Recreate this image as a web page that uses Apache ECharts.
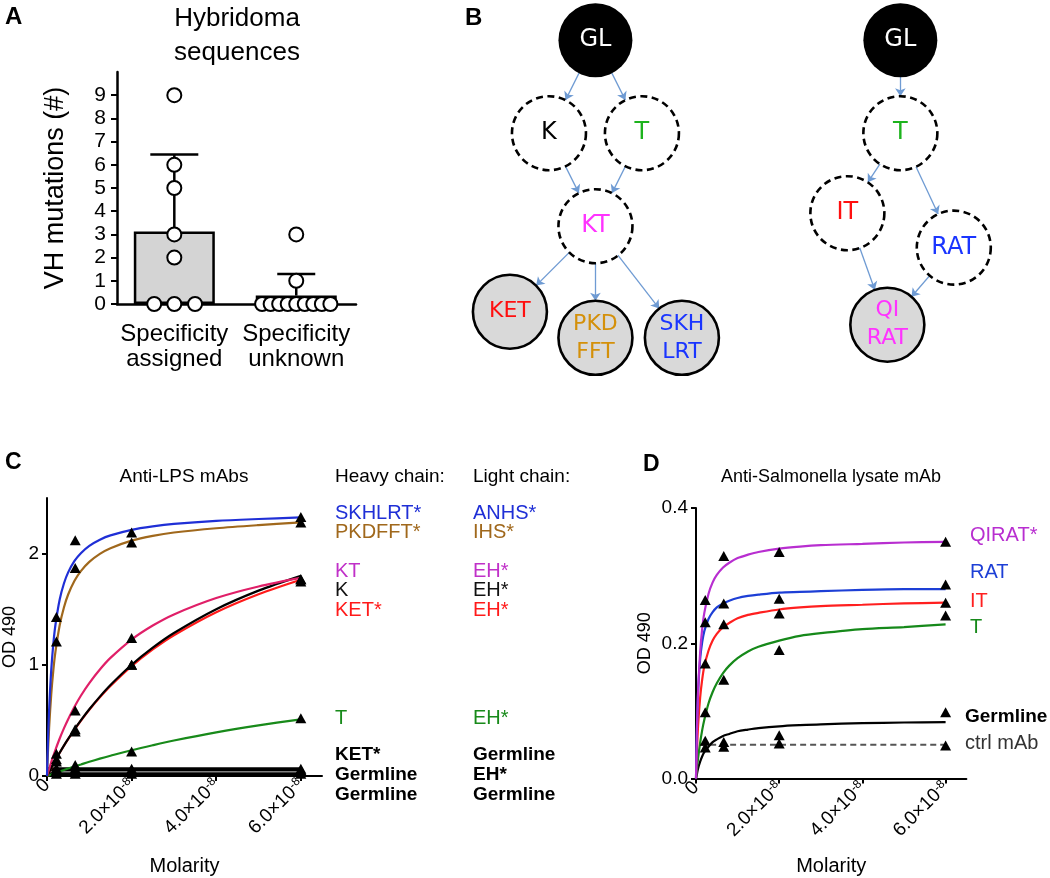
<!DOCTYPE html>
<html><head><meta charset="utf-8">
<script src="https://cdn.jsdelivr.net/npm/echarts@6/dist/echarts.min.js"></script>
<style>html,body{margin:0;padding:0;background:#fff}#c{width:1050px;height:878px}</style>
</head><body><div id="c"></div>
<script>
// ================= DATA =================
// Panel A
const categoriesA = ['Specificity\nassigned', 'Specificity\nunknown'];
const yTicksA = [0, 1, 2, 3, 4, 5, 6, 7, 8, 9];
const assignedValues = [9, 6, 5, 3, 2, 0, 0, 0];
const assignedOffsets = [0, 0, 0, 0, 0, -0.165, 0, 0.17];
const unknownValues = [3, 1, 0, 0, 0, 0, 0, 0, 0, 0, 0];
const unknownOffsets = [0, 0, -0.28, -0.21, -0.14, -0.07, 0, 0.07, 0.14, 0.21, 0.28];

// Panel B (col = horizontal step, level = vertical step)
const treeLeftNodes = [
  {id: 'GL', text: 'GL', kind: 'root', color: '#ffffff', col: 0, level: 0},
  {id: 'K', text: 'K', kind: 'inter', color: '#000000', col: -1, level: 1},
  {id: 'T', text: 'T', kind: 'inter', color: '#1db31d', col: 1, level: 1},
  {id: 'KT', text: 'KT', kind: 'inter', color: '#ff33ff', col: 0, level: 2},
  {id: 'KET', text: 'KET', kind: 'leaf', color: '#ff1010', col: -1.84, level: 2.92},
  {id: 'PKDFFT', text: 'PKD\nFFT', kind: 'leaf', color: '#d4900a', col: 0, level: 3.2},
  {id: 'SKHLRT', text: 'SKH\nLRT', kind: 'leaf', color: '#1a35ff', col: 1.86, level: 3.2}
];
const treeLeftLinks = [['GL', 'K'], ['GL', 'T'], ['K', 'KT'], ['T', 'KT'], ['KT', 'KET'], ['KT', 'PKDFFT'], ['KT', 'SKHLRT']];
const treeRightNodes = [
  {id: 'GL', text: 'GL', kind: 'root', color: '#ffffff', col: 0, level: 0},
  {id: 'T', text: 'T', kind: 'inter', color: '#1db31d', col: 0, level: 1},
  {id: 'IT', text: 'IT', kind: 'inter', color: '#ff1010', col: -1.14, level: 1.86},
  {id: 'RAT', text: 'RAT', kind: 'inter', color: '#1a35ff', col: 1.15, level: 2.23},
  {id: 'QIRAT', text: 'QI\nRAT', kind: 'leaf', color: '#ff33ff', col: -0.28, level: 3.06}
];
const treeRightLinks = [['GL', 'T'], ['T', 'IT'], ['T', 'RAT'], ['IT', 'QIRAT'], ['RAT', 'QIRAT']];
const treeRightColOffset = 6.56;

// Panels C and D (molarity in units of 1e-8 M)
const xTicksCD = [0, 2, 4, 6];
const curveX = [0, 0.02, 0.05, 0.1, 0.15, 0.2, 0.3, 0.4, 0.5, 0.65, 0.8, 1, 1.25, 1.5, 2, 2.5, 3, 4, 5, 6];
const pointX = [0.222, 0.667, 2, 6];

const yTicksC = [0, 1, 2];
const curveC_SKHLRT = [0, 0.28, 0.595, 0.952, 1.19, 1.36, 1.587, 1.731, 1.831, 1.934, 2.004, 2.07, 2.125, 2.164, 2.214, 2.245, 2.267, 2.294, 2.311, 2.325];
const curveC_PKDFFT = [0, 0.196, 0.435, 0.734, 0.953, 1.119, 1.356, 1.516, 1.632, 1.756, 1.843, 1.926, 1.998, 2.049, 2.117, 2.16, 2.19, 2.228, 2.256, 2.28];
const curveC_KT = [0, 0.026, 0.064, 0.124, 0.182, 0.236, 0.337, 0.428, 0.511, 0.623, 0.722, 0.836, 0.958, 1.062, 1.227, 1.353, 1.453, 1.6, 1.704, 1.781];
const curveC_K = [0, 0.015, 0.037, 0.073, 0.108, 0.143, 0.209, 0.273, 0.333, 0.419, 0.5, 0.6, 0.714, 0.818, 1.0, 1.154, 1.286, 1.5, 1.667, 1.8];
const curveC_KET = [0, 0.015, 0.037, 0.073, 0.108, 0.143, 0.209, 0.272, 0.332, 0.417, 0.497, 0.596, 0.708, 0.81, 0.988, 1.138, 1.266, 1.473, 1.635, 1.765];
const curveC_T = [0, 0.003, 0.007, 0.014, 0.021, 0.028, 0.041, 0.054, 0.067, 0.086, 0.104, 0.128, 0.156, 0.182, 0.232, 0.277, 0.319, 0.392, 0.455, 0.51];
const flatX = [0, 6];
const lineC_flat1 = [0.065, 0.065];
const lineC_flat2 = [0.055, 0.055];
const lineC_flat3 = [0.02, 0.02];
const pointsC_SKHLRT = [1.43, 2.12, 2.19, 2.33];
const pointsC_PKDFFT = [1.21, 1.87, 2.10, 2.28];
const pointsC_KT = [0.20, 0.59, 1.24, 1.77];
const pointsC_K = [0.13, 0.40, 1.0, 1.77];
const pointsC_KET = [0.15, 0.42, 1.0, 1.75];
const pointsC_T = [0.05, 0.10, 0.22, 0.52];
const pointsC_flat1 = [0.07, 0.07, 0.065, 0.065];
const pointsC_flat2 = [0.05, 0.05, 0.05, 0.055];
const pointsC_flat3 = [0.02, 0.02, 0.02, 0.02];
const heavyChainC = ['SKHLRT*', 'PKDFFT*', 'KT', 'K', 'KET*', 'T', 'KET*', 'Germline', 'Germline'];
const lightChainC = ['ANHS*', 'IHS*', 'EH*', 'EH*', 'EH*', 'EH*', 'Germline', 'EH*', 'Germline'];

const yTicksD = [0, 0.2, 0.4];
const curveD_QIRAT = [0, 0.065, 0.127, 0.187, 0.222, 0.245, 0.273, 0.29, 0.301, 0.312, 0.319, 0.326, 0.331, 0.335, 0.34, 0.343, 0.345, 0.347, 0.349, 0.35];
const curveD_RAT = [0, 0.071, 0.129, 0.177, 0.202, 0.218, 0.236, 0.246, 0.253, 0.259, 0.263, 0.267, 0.27, 0.272, 0.275, 0.276, 0.277, 0.279, 0.28, 0.28];
const curveD_IT = [0, 0.038, 0.078, 0.12, 0.147, 0.166, 0.189, 0.204, 0.214, 0.224, 0.23, 0.237, 0.242, 0.245, 0.25, 0.253, 0.255, 0.257, 0.259, 0.26];
const curveD_T = [0, 0.013, 0.03, 0.053, 0.072, 0.087, 0.111, 0.128, 0.141, 0.156, 0.167, 0.178, 0.188, 0.195, 0.204, 0.211, 0.215, 0.221, 0.224, 0.228];
const curveD_GL = [0, 0.006, 0.015, 0.025, 0.033, 0.039, 0.047, 0.054, 0.058, 0.063, 0.066, 0.07, 0.0725, 0.0746, 0.0773, 0.079, 0.0803, 0.0819, 0.0829, 0.0835];
const ctrlX = [0.1, 6];
const lineD_ctrl = [0.05, 0.05];
const pointsD_QIRAT = [0.264, 0.329, 0.335, 0.35];
const pointsD_RAT = [0.231, 0.259, 0.266, 0.287];
const pointsD_IT = [0.17, 0.228, 0.244, 0.26];
const pointsD_T = [0.098, 0.146, 0.19, 0.241];
const pointsD_GL = [0.056, 0.054, 0.064, 0.098];
const pointsD_ctrl = [0.046, 0.047, 0.052, 0.049];
const labelsD = ['QIRAT*', 'RAT', 'IT', 'T', 'Germline', 'ctrl mAb'];

// ================= STYLE =================
const SANS = '"Liberation Sans", Arial, sans-serif';
const VERD = '"DejaVu Sans", Verdana, sans-serif';
const colC = {blue: '#1f2fd6', brown: '#a0681c', pink: '#e01f68', black: '#000000', red: '#ff1a1a', green: '#188a1a'};
const colD = {mag: '#b82ed0', blue: '#1d3fd6', red: '#ff1f1f', green: '#16891a', black: '#000000', ctrl: '#555555'};
const capWidthA = [48, 38];

function mean(a) { return a.reduce((s, v) => s + v, 0) / a.length; }
function sd(a) { const m = mean(a); return Math.sqrt(a.reduce((s, v) => s + (v - m) * (v - m), 0) / (a.length - 1)); }
const statsA = [assignedValues, unknownValues].map(a => ({mean: mean(a), sd: sd(a)}));

const nodeStyle = {
  root: {color: '#000000', borderColor: '#000000', borderWidth: 0, opacity: 1},
  inter: {color: '#ffffff', borderColor: '#000000', borderWidth: 2.6, borderType: [7, 4.5], opacity: 1},
  leaf: {color: '#d9d9d9', borderColor: '#000000', borderWidth: 2.6, opacity: 1}
};
function treeSeries(nodes, links, off) {
  return {
    type: 'graph', coordinateSystem: 'cartesian2d', xAxisIndex: 1, yAxisIndex: 1,
    symbol: 'circle', symbolSize: 74, silent: true, z: 5,
    edgeSymbol: ['none', 'arrow'], edgeSymbolSize: [0, 8],
    lineStyle: {color: '#6f9bd3', width: 1.3, opacity: 1, curveness: 0},
    emphasis: {disabled: true},
    data: nodes.map(n => ({
      name: n.id, value: [n.col + off, n.level], itemStyle: nodeStyle[n.kind],
      label: {show: true, position: 'inside', formatter: n.text, color: n.color,
        fontSize: n.kind === 'leaf' ? 22 : 24, lineHeight: 28, fontFamily: VERD}
    })),
    links: links.map(([s, t]) => ({source: s, target: t}))
  };
}
function pairs(xs, ys) { return xs.map((x, i) => [x, ys[i]]); }
function curve(idx, ys, color, xs, extra) {
  return Object.assign({type: 'line', xAxisIndex: idx, yAxisIndex: idx, data: pairs(xs || curveX, ys),
    smooth: 0.3, showSymbol: false, silent: true, z: 3,
    lineStyle: {color: color, width: 2.2}}, extra || {});
}
function tri(idx, ys) {
  return {type: 'scatter', xAxisIndex: idx, yAxisIndex: idx, data: pairs(pointX, ys), symbol: 'triangle',
    symbolSize: [11, 10], itemStyle: {color: '#000', opacity: 1}, silent: true, z: 6};
}
function txt(x, y, text, o) {
  o = o || {};
  return {type: 'text', x: x, y: y, silent: true, z: 100, style: {text: text, fill: o.fill || '#000',
    font: (o.weight || 'normal') + ' ' + (o.size || 20) + 'px ' + (o.family || SANS),
    align: o.align || 'left', verticalAlign: o.va || 'middle'}};
}
const xLabelCD = {
  rotate: 45, margin: 6, color: '#000', fontFamily: SANS, fontSize: 19, customValues: xTicksCD,
  showMinLabel: true, showMaxLabel: true, hideOverlap: false,
  formatter: v => v === 0 ? '{a|0}' : '{a|' + v.toFixed(1) + '×10}{s|-8}',
  rich: {a: {fontSize: 19, fontFamily: SANS, color: '#000'}, s: {fontSize: 12, fontFamily: SANS, color: '#000', verticalAlign: 'top'}}
};
const axLine = {onZero: false, lineStyle: {color: '#000', width: 2}};

// ================= GRAPHIC TEXTS =================
const rowYC = [513, 532, 571, 590, 610, 718, 755, 775, 795];
const rowColC = [colC.blue, colC.brown, '#c030c8', '#111', colC.red, colC.green, '#000', '#000', '#000'];
const rowBoldC = [false, false, false, false, false, false, true, true, true];
const graphics = [
  txt(5, 17, 'A', {size: 24, weight: 'bold'}),
  txt(237, 19, 'Hybridoma', {size: 26, align: 'center'}),
  txt(237, 53, 'sequences', {size: 26, align: 'center'}),
  txt(465, 18, 'B', {size: 24, weight: 'bold'}),
  txt(5, 463, 'C', {size: 23, weight: 'bold'}),
  txt(184, 477, 'Anti-LPS mAbs', {size: 19, align: 'center'}),
  txt(335, 477, 'Heavy chain:', {size: 19}),
  txt(473, 477, 'Light chain:', {size: 19}),
  txt(643, 465, 'D', {size: 23, weight: 'bold'}),
  txt(831, 477, 'Anti-Salmonella lysate mAb', {size: 18, align: 'center'})
];
heavyChainC.forEach((t, i) => graphics.push(txt(335, rowYC[i], t, {size: rowBoldC[i] ? 19 : 20, weight: rowBoldC[i] ? 'bold' : 'normal', fill: rowColC[i]})));
lightChainC.forEach((t, i) => graphics.push(txt(473, rowYC[i], t, {size: (rowBoldC[i] || t === 'Germline') ? 19 : 20, weight: (rowBoldC[i] || t === 'Germline') ? 'bold' : 'normal', fill: rowColC[i]})));
const rowYD = [535, 572, 601, 627, 717, 743];
const rowXD = [970, 970, 970, 970, 965, 965];
const rowColD = [colD.mag, colD.blue, colD.red, colD.green, '#000', '#333'];
labelsD.forEach((t, i) => graphics.push(txt(rowXD[i], rowYD[i], t, {size: i === 4 ? 19 : 20, weight: i === 4 ? 'bold' : 'normal', fill: rowColD[i]})));

// ================= OPTION =================
const option = {
  animation: false,
  backgroundColor: '#fff',
  grid: [
    {left: 117, top: 72, width: 239, height: 232},
    {left: 456, top: 3, width: 581, height: 390.6},
    {left: 45, top: 498, width: 277, height: 278},
    {left: 696, top: 508, width: 270.4, height: 270.6}
  ],
  xAxis: [
    {gridIndex: 0, type: 'value', min: -0.47, max: 1.49, splitLine: {show: false},
      axisLine: {onZero: false, lineStyle: {color: '#000', width: 2.5}}, axisTick: {show: false},
      axisLabel: {customValues: [0, 1], showMinLabel: true, showMaxLabel: true, hideOverlap: false,
        formatter: v => categoriesA[Math.round(v)], color: '#000',
        fontFamily: SANS, fontSize: 24, lineHeight: 25, margin: 18}},
    {gridIndex: 1, type: 'value', min: -3, max: 9.5, show: false},
    {gridIndex: 2, type: 'value', min: 0, max: 6.5, splitLine: {show: false}, axisLine: axLine,
      axisTick: {customValues: xTicksCD, length: 5, lineStyle: {color: '#000', width: 2}}, axisLabel: xLabelCD,
      name: 'Molarity', nameLocation: 'middle', nameGap: 80,
      nameTextStyle: {color: '#000', fontFamily: SANS, fontSize: 20}},
    {gridIndex: 3, type: 'value', min: 0, max: 6.5, splitLine: {show: false}, axisLine: axLine,
      axisTick: {customValues: xTicksCD, length: 5, lineStyle: {color: '#000', width: 2}}, axisLabel: xLabelCD,
      name: 'Molarity', nameLocation: 'middle', nameGap: 78,
      nameTextStyle: {color: '#000', fontFamily: SANS, fontSize: 20}}
  ],
  yAxis: [
    {gridIndex: 0, type: 'value', min: 0, max: 10, splitLine: {show: false},
      axisLine: {onZero: false, lineStyle: {color: '#000', width: 2.5}},
      axisTick: {customValues: yTicksA, length: 6, lineStyle: {color: '#000', width: 2}},
      axisLabel: {customValues: yTicksA, showMinLabel: true, showMaxLabel: true, hideOverlap: false, color: '#000',
        fontFamily: SANS, fontSize: 21, lineHeight: 20, margin: 11},
      name: 'VH mutations (#)', nameLocation: 'middle', nameGap: 48,
      nameTextStyle: {color: '#000', fontFamily: SANS, fontSize: 27}},
    {gridIndex: 1, type: 'value', min: -0.4, max: 3.8, inverse: true, show: false},
    {gridIndex: 2, type: 'value', min: 0, max: 2.5, splitLine: {show: false}, axisLine: axLine,
      axisTick: {customValues: yTicksC, length: 5, lineStyle: {color: '#000', width: 2}},
      axisLabel: {customValues: yTicksC, showMinLabel: true, showMaxLabel: true, color: '#000', fontFamily: SANS, fontSize: 19, margin: 8},
      name: 'OD 490', nameLocation: 'middle', nameGap: 28,
      nameTextStyle: {color: '#000', fontFamily: SANS, fontSize: 18}},
    {gridIndex: 3, type: 'value', min: 0, max: 0.4, splitLine: {show: false}, axisLine: axLine,
      axisTick: {customValues: yTicksD, length: 5, lineStyle: {color: '#000', width: 2}},
      axisLabel: {customValues: yTicksD, showMinLabel: true, showMaxLabel: true, color: '#000', fontFamily: SANS, fontSize: 19, margin: 8,
        formatter: v => v.toFixed(1)},
      name: 'OD 490', nameLocation: 'middle', nameGap: 42,
      nameTextStyle: {color: '#000', fontFamily: SANS, fontSize: 18}}
  ],
  graphic: graphics,
  series: [
    // Panel A
    {type: 'bar', xAxisIndex: 0, yAxisIndex: 0, data: statsA.map((s, i) => [i, s.mean]), barWidth: 81,
      silent: true, z: 2, itemStyle: {color: '#d4d4d4', borderColor: '#000', borderWidth: 2.5}},
    {type: 'custom', xAxisIndex: 0, yAxisIndex: 0, z: 3, silent: true,
      data: statsA.map((s, i) => [i, s.mean, s.mean + s.sd]),
      renderItem: function (params, api) {
        const p0 = api.coord([api.value(0), api.value(1)]);
        const p1 = api.coord([api.value(0), api.value(2)]);
        const w = capWidthA[params.dataIndex] / 2;
        return {type: 'group', children: [
          {type: 'line', shape: {x1: p0[0], y1: p0[1], x2: p1[0], y2: p1[1]}, style: {stroke: '#000', lineWidth: 2.5}},
          {type: 'line', shape: {x1: p1[0] - w, y1: p1[1], x2: p1[0] + w, y2: p1[1]}, style: {stroke: '#000', lineWidth: 2.5}}
        ]};
      }},
    {type: 'scatter', xAxisIndex: 0, yAxisIndex: 0, silent: true, z: 6, symbolSize: 14,
      data: assignedValues.map((v, i) => [0 + assignedOffsets[i], v]).concat(unknownValues.map((v, i) => [1 + unknownOffsets[i], v])),
      itemStyle: {color: '#fff', borderColor: '#000', borderWidth: 2, opacity: 1}},
    // Panel B
    treeSeries(treeLeftNodes, treeLeftLinks, 0),
    treeSeries(treeRightNodes, treeRightLinks, treeRightColOffset),
    // Panel C
    curve(2, lineC_flat3, '#000', flatX, {lineStyle: {color: '#000', width: 3}}),
    curve(2, lineC_flat2, '#000', flatX, {lineStyle: {color: '#000', width: 3}}),
    curve(2, lineC_flat1, '#000', flatX, {lineStyle: {color: '#000', width: 3}}),
    curve(2, curveC_T, colC.green),
    curve(2, curveC_KET, colC.red),
    curve(2, curveC_K, colC.black),
    curve(2, curveC_KT, colC.pink),
    curve(2, curveC_PKDFFT, colC.brown),
    curve(2, curveC_SKHLRT, colC.blue),
    tri(2, pointsC_SKHLRT), tri(2, pointsC_PKDFFT), tri(2, pointsC_KT), tri(2, pointsC_K),
    tri(2, pointsC_KET), tri(2, pointsC_T), tri(2, pointsC_flat1), tri(2, pointsC_flat2), tri(2, pointsC_flat3),
    // Panel D
    curve(3, lineD_ctrl, colD.ctrl, ctrlX, {lineStyle: {color: colD.ctrl, width: 2, type: [6, 4]}}),
    curve(3, curveD_GL, colD.black),
    curve(3, curveD_T, colD.green),
    curve(3, curveD_IT, colD.red),
    curve(3, curveD_RAT, colD.blue),
    curve(3, curveD_QIRAT, colD.mag),
    tri(3, pointsD_QIRAT), tri(3, pointsD_RAT), tri(3, pointsD_IT), tri(3, pointsD_T),
    tri(3, pointsD_GL), tri(3, pointsD_ctrl)
  ]
};
const chart = echarts.init(document.getElementById('c'));
chart.setOption(option);
</script></body></html>
